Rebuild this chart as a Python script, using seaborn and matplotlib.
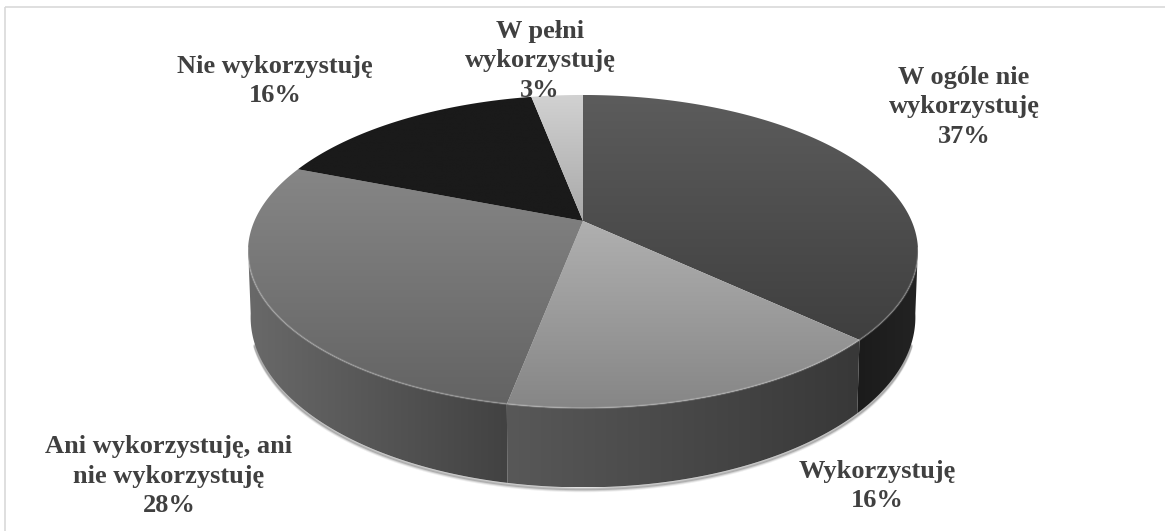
import matplotlib
matplotlib.use('Agg')
import matplotlib.pyplot as plt
from matplotlib.patches import Polygon, Rectangle
import numpy as np
import seaborn as sns

labels = ["W ogóle nie\nwykorzystuję", "Wykorzystuję", "Ani wykorzystuję, ani\nnie wykorzystuję",
          "Nie wykorzystuję", "W pełni\nwykorzystuję"]
values = [37, 16, 28, 16, 3]

# gradients per slice (top to bottom on the face, left to right on the side)
face_colors = [("#5c5c5c", "#3f3f3f"), ("#b0b0b0", "#868686"), ("#868686", "#636363"),
               ("#1a1a1a", "#1a1a1a"), ("#d2d2d2", "#a8a8a8")]
side_colors = [("#1b1b1b", "#232323"), ("#585858", "#383838"), ("#696969", "#424242"),
               ("#111111", "#111111"), ("#999999", "#999999")]
label_pos = [(964, 107), (877, 486), (169, 476), (275, 81), (540, 61)]

W, H = 1165, 531
CX, CY = 583, 221
K = 0.195  # perspective
TOP_A, TOP_B = 150.6, 328.6
BOT_Y, BOT_A, BOT_B = 284, 163.7, 326


def top_xy(theta):
    u, v = np.cos(theta), np.sin(theta)
    d = 1 + K * v
    return CX + TOP_B * u / d, CY - TOP_A * v / d


def bottom_xy(theta):
    u, v = np.cos(theta), np.sin(theta)
    d = 1 + K * v
    return CX + BOT_B * u / d, BOT_Y - BOT_A * v / d


def gradient(ax, poly, colors, horizontal=False, zorder=2):
    cmap = sns.blend_palette(list(colors), as_cmap=True)
    xs, ys = poly[:, 0], poly[:, 1]
    ramp = np.linspace(0, 1, 256)
    img = ramp.reshape(1, -1) if horizontal else ramp.reshape(-1, 1)
    im = ax.imshow(img, cmap=cmap, vmin=0, vmax=1, aspect='auto', zorder=zorder,
                   extent=(xs.min(), xs.max(), ys.max(), ys.min()))
    patch = Polygon(poly, closed=True, transform=ax.transData, fc='none', ec='none')
    ax.add_patch(patch)
    im.set_clip_path(patch)


sns.set_theme(style="white")
plt.rcParams['font.family'] = ['Liberation Serif', 'DejaVu Serif']

fig = plt.figure(figsize=(W / 100, H / 100), dpi=100)
ax = fig.add_axes([0, 0, 1, 1])

# let pie work out the slice angles, the perspective is done by hand afterwards
wedges, _ = ax.pie(values, startangle=90, counterclock=False)
angles = [(w.theta1, w.theta2) for w in wedges]
for w in wedges:
    w.remove()

ax.set_aspect('auto')
ax.set_xlim(0, W)
ax.set_ylim(H, 0)
ax.axis('off')

# soft shadow below the base
front = np.radians(np.linspace(-160, -20, 200))
bx, by = bottom_xy(front)
for off, al in [(3.5, 0.10), (2.5, 0.18), (1.5, 0.30)]:
    ax.plot(bx, by + off, color="#555555", alpha=al, lw=2, zorder=1)

for (t1, t2), col in zip(angles, side_colors):
    lo, hi = max(t1, -170), min(t2, -10)
    if lo >= hi:
        continue
    th = np.radians(np.linspace(lo, hi, 80))
    tx, ty = top_xy(th)
    bx, by = bottom_xy(th)
    poly = np.column_stack([np.r_[tx, bx[::-1]], np.r_[ty, by[::-1]]])
    gradient(ax, poly, col, horizontal=True, zorder=2)

for (t1, t2), col in zip(angles, face_colors):
    th = np.radians(np.linspace(t1, t2, 200))
    tx, ty = top_xy(th)
    poly = np.column_stack([np.r_[CX, tx], np.r_[CY, ty]])
    gradient(ax, poly, col, zorder=3)

# light rim on the front edge
rim = np.radians(np.linspace(-170, -10, 300))
tx, ty = top_xy(rim)
ax.plot(tx, ty, color="#ffffff", alpha=0.2, lw=1.5, zorder=4)

ax.add_patch(Rectangle((5, 7), W + 20, H + 20, fc='none', ec="#d9d9d9", lw=1.2, zorder=5))

for lab, val, (x, y) in zip(labels, values, label_pos):
    ax.text(x, y, f"{lab}\n{val}%", ha='center', va='center', fontsize=19, fontweight='bold',
            color="#404040", linespacing=1.35, zorder=6)

fig.savefig("out.png", dpi=100)
plt.close(fig)
